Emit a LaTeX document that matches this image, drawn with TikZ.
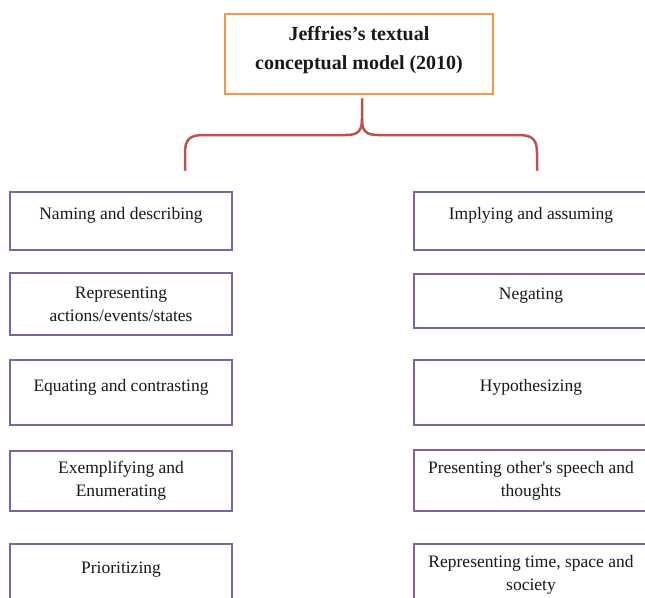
\documentclass[tikz,border=0pt]{standalone}
\usepackage{fontspec}
\setmainfont{Liberation Serif}[Ligatures=TeXOff]
\definecolor{boxorange}{HTML}{F79646}
\definecolor{boxpurple}{HTML}{8064A2}
\definecolor{bracered}{HTML}{C0504D}
\newcommand{\oneline}[1]{#1\\[-8pt]\mbox{}}
\tikzset{
  itembox/.style={draw=boxpurple, line width=2.3pt, rectangle, inner sep=0pt,
    minimum width=222pt, minimum height=60pt, align=center,
    font=\fontsize{17.5}{23}\selectfont, text=black!90},
  ritembox/.style={itembox, minimum width=234pt},
  titlebox/.style={draw=boxorange, line width=2.3pt, rectangle, inner sep=0pt,
    minimum width=268pt, minimum height=80pt},
  titletext/.style={align=center, font=\fontsize{20}{29}\selectfont\bfseries, text=black!90},
  bracestyle/.style={draw=bracered, line width=2.5pt, line cap=round, line join=round}
}
\begin{document}
\begin{tikzpicture}[x=1pt,y=-1pt]
\clip (0,0) rectangle (645,597);
\fill[white] (0,0) rectangle (645,597);
% title
\node[titlebox] (top) at (359,54) {};
\node[titletext] (toptext) at (359,50) {Jeffries’s textual\\conceptual model (2010)};
% brace
\coordinate (apex) at (362,99);
\coordinate (lend) at (185,170);
\coordinate (rend) at (537,170);
\draw[bracestyle] (lend) -- (185,153) .. controls (185,139) and (190,135) .. (204,135)
  -- (346,135) .. controls (358,135) and (362,131) .. (362,119) -- (apex);
\draw[bracestyle] (rend) -- (537,153) .. controls (537,139) and (532,135) .. (518,135)
  -- (378,135) .. controls (366,135) and (362,131) .. (362,119);
% left column
\node[itembox, minimum height=58pt] (l1) at (121,221) {\oneline{Naming and describing}};
\node[itembox, minimum height=62pt] (l2) at (121,304) {Representing\\actions/events/states};
\node[itembox, minimum height=65pt] (l3) at (121,392.5) {\oneline{Equating and contrasting}};
\node[itembox, minimum height=60pt] (l4) at (121,481) {Exemplifying and\\Enumerating};
\node[itembox, minimum height=62pt] (l5) at (121,575) {\oneline{Prioritizing}};
% right column
\node[ritembox, minimum height=58pt] (r1) at (531,221) {\oneline{Implying and assuming}};
\node[ritembox, minimum height=54pt] (r2) at (531,301) {\oneline{Negating}};
\node[ritembox, minimum height=65pt] (r3) at (531,392.5) {\oneline{Hypothesizing}};
\node[ritembox, minimum height=61pt] (r4) at (531,480.5) {Presenting other's speech and\\thoughts};
\node[ritembox, minimum height=62pt] (r5) at (531,575) {Representing time, space and\\society};
\end{tikzpicture}
\end{document}
